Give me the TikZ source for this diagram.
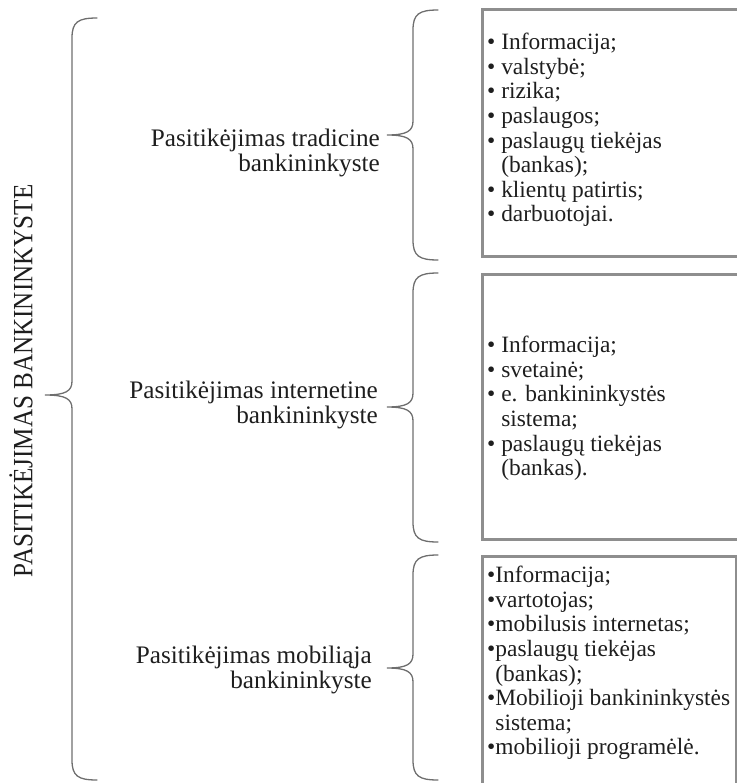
\documentclass[tikz,border=0pt]{standalone}
\usepackage{fontspec}
\setmainfont{Liberation Serif}
\definecolor{bracegray}{HTML}{6E6E6E}
\definecolor{boxgray}{HTML}{8E8E8E}
\definecolor{inktext}{HTML}{1E1E1E}
\tikzset{
  bracepath/.style={draw=bracegray, line width=1.3bp, line cap=round},
  itembox/.style={draw=boxgray, line width=3bp},
  grouplabel/.style={font=\fontsize{25.3}{25.3}\selectfont, text=inktext, anchor=base east, inner sep=0pt},
  itemlist/.style={font=\fontsize{23.5}{24.7}\selectfont, text=inktext, align=left, anchor=north west, inner sep=0pt},
  toptitle/.style={font=\fontsize{28}{28}\selectfont, text=inktext, rotate=90, inner sep=0pt},
}
% left-opening brace: x of tip, x of the vertical stroke, x of the arm ends, top, tip y, bottom
\newcommand{\leftbrace}[6]{%
  \draw[bracepath] (#3,#4) .. controls (#2+6,#4) and (#2,#4+4) .. (#2,#4+20)
    -- (#2,#5-14) .. controls (#2,#5-4) and (#2-6,#5) .. (#1,#5)
    .. controls (#2-6,#5) and (#2,#5+4) .. (#2,#5+14)
    -- (#2,#6-20) .. controls (#2,#6-4) and (#2+6,#6) .. (#3,#6);}
\begin{document}
\begin{tikzpicture}[x=1bp,y=-1bp]
\useasboundingbox (0,0) rectangle (737,783);

% main title, set vertically in a slightly narrowed face
\node[toptitle] (title) at (21,381) {\scalebox{0.9}[1]{PASITIKĖJIMAS BANKININKYSTE}};

% large brace grouping the three kinds of trust
\leftbrace{45}{72}{97}{18}{395}{780}

% three smaller braces
\leftbrace{387}{413}{438}{10}{135}{260}
\leftbrace{387}{413}{438}{273}{407}{542}
\leftbrace{387}{413}{438}{555}{668}{780}

% group labels
\node[grouplabel] (trad1) at (380,146) {Pasitikėjimas tradicine};
\node[grouplabel] (trad2) at (380,171) {bankininkyste};
\node[grouplabel] (inet1) at (378,398) {Pasitikėjimas internetine};
\node[grouplabel] (inet2) at (378,423) {bankininkyste};
\node[grouplabel] (mob1) at (372,663) {Pasitikėjimas mobiliąja};
\node[grouplabel] (mob2) at (372,688) {bankininkyste};

% factor boxes
\draw[itembox] (482,10) rectangle (745,256);
\draw[itembox] (482,274) rectangle (745,539);
\draw[itembox] (482,556) rectangle (736,795);

% factor lists
\node[itemlist] (tradlist) at (487,33) {%
  • Informacija;\\
  • valstybė;\\
  • rizika;\\
  • paslaugos;\\
  • paslaugų tiekėjas\\
  \hphantom{•} (bankas);\\
  • klientų patirtis;\\
  • darbuotojai.};
\node[itemlist] (inetlist) at (487,336) {%
  • Informacija;\\
  • svetainė;\\
  • e. bankininkystės\\
  \hphantom{•} sistema;\\
  • paslaugų tiekėjas\\
  \hphantom{•} (bankas).};
\node[itemlist] (moblist) at (487,566) {%
  •Informacija;\\
  •vartotojas;\\
  •mobilusis internetas;\\
  •paslaugų tiekėjas\\
  \hphantom{•}(bankas);\\
  •Mobilioji bankininkystės\\
  \hphantom{•}sistema;\\
  •mobilioji programėlė.};
\end{tikzpicture}
\end{document}
